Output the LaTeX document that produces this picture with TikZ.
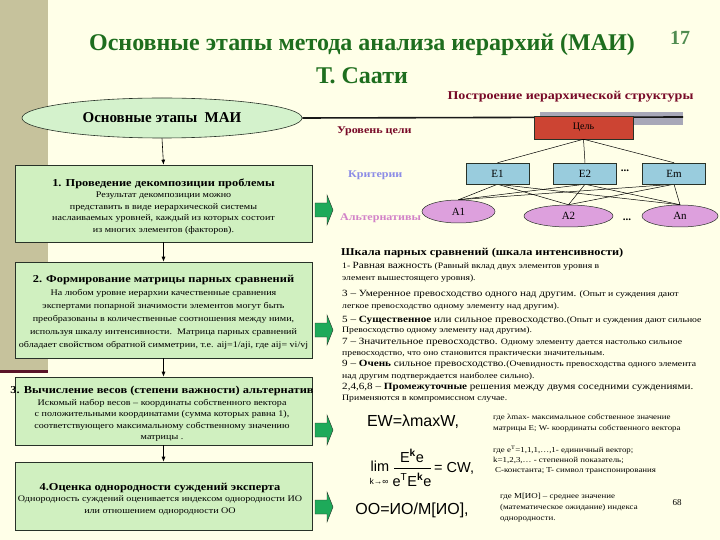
\documentclass[tikz,border=0pt]{standalone}
\usepackage{fontspec}
\setmainfont{Liberation Serif}[BoldFont={Liberation Serif Bold}]
\setsansfont{Liberation Sans}
\newfontfamily\widefont{Liberation Serif}[FakeStretch=1.17, BoldFont={Liberation Serif Bold}]
\newcommand\stghead{\widefont\bfseries\fontsize{10.6}{12}\selectfont}
\usetikzlibrary{arrows.meta,shapes.geometric}
\definecolor{bg}{RGB}{255,255,232}
\definecolor{band}{RGB}{198,194,156}
\definecolor{maroonbar}{RGB}{90,20,40}
\definecolor{titlegreen}{RGB}{30,110,30}
\definecolor{numgreen}{RGB}{80,140,80}
\definecolor{maroontxt}{RGB}{120,10,40}
\definecolor{boxgreen}{RGB}{208,240,192}
\definecolor{ellgreen}{RGB}{212,242,204}
\definecolor{goalred}{RGB}{204,68,51}
\definecolor{critblue}{RGB}{153,204,221}
\definecolor{altpink}{RGB}{221,160,221}
\definecolor{crittxt}{RGB}{140,140,230}
\definecolor{alttxt}{RGB}{210,130,200}
\definecolor{arrgreen}{RGB}{30,170,90}
\definecolor{graybar}{RGB}{168,168,184}
\definecolor{edge}{RGB}{40,50,40}
\begin{document}
\begin{tikzpicture}[x=1pt,y=-1pt,
  stagebox/.style={draw=edge, fill=boxgreen, line width=0.6pt, minimum width=297, inner sep=0},
  stagetext/.style={align=center, inner sep=0, font=\widefont\fontsize{8.6}{11.6}\selectfont},
  flow/.style={-{Latex[length=5pt,width=4pt]}, line width=0.6pt},
  critbox/.style={draw=edge, fill=critblue, line width=0.5pt, minimum width=63, minimum height=21, inner sep=0, font=\fontsize{11}{12}\selectfont},
  altell/.style={ellipse, draw=edge, fill=altpink, line width=0.5pt, minimum height=23, inner sep=0, font=\fontsize{11}{12}\selectfont},
  hline/.style={line width=0.5pt},
  levellabel/.style={anchor=west, inner sep=0, font=\widefont\bfseries\fontsize{10.3}{11}\selectfont},
  scaletext/.style={anchor=west, inner sep=0, font=\widefont\fontsize{8.3}{9}\selectfont},
  note/.style={anchor=west, inner sep=0, font=\widefont\fontsize{7.6}{9}\selectfont},
  formula/.style={inner sep=0, font=\sffamily\fontsize{16}{18}\selectfont},
  formsmall/.style={inner sep=0, font=\sffamily\fontsize{14.5}{15}\selectfont},
  garrow/.pic={\filldraw[fill=arrgreen, draw=edge, line width=0.4pt]
     (0,-7) -- (12,-7) -- (12,-15) -- (18,0) -- (12,15) -- (12,7) -- (0,7) -- cycle;}
]
\useasboundingbox (0,0) rectangle (720,540);
\fill[bg] (0,0) rectangle (720,540);
\fill[band] (0,0) rectangle (48,370);
\fill[maroonbar] (0,370) rectangle (48,373);

% titles
\node[text=titlegreen, font=\bfseries\fontsize{24}{28}\selectfont] (title1) at (362,45) {Основные этапы метода анализа иерархий (МАИ)};
\node[text=titlegreen, font=\bfseries\fontsize{24}{28}\selectfont] (title2) at (362,76) {Т. Саати};
\node[text=numgreen, font=\bfseries\fontsize{20}{22}\selectfont] (num) at (680,38) {17};
\node[anchor=east, text=maroontxt, font=\widefont\bfseries\fontsize{12}{14}\selectfont] (sub) at (697,97) {Построение иерархической структуры};

% main ellipse and stages
\node[ellipse, draw=edge, fill=ellgreen, line width=0.6pt, minimum width=280, minimum height=40, inner sep=0, font=\bfseries\fontsize{15}{17}\selectfont] (mai) at (162,118) {Основные этапы\ \ МАИ};

\node[stagebox, minimum height=77] (b1) at (163.5,203.5) {};
\node[stagebox, minimum height=96] (b2) at (163.5,310) {};
\node[stagebox, minimum height=68] (b3) at (163.5,411) {};
\node[stagebox, minimum height=68] (b4) at (163.5,496) {};

\node[stagetext] (t1) at (163.5,206.5) {{\stghead 1. Проведение декомпозиции проблемы}\\
Результат декомпозиции можно\\ представить в виде иерархической системы\\ наслаиваемых уровней, каждый из которых состоит\\ из многих элементов (факторов).};
\node[stagetext, font=\widefont\fontsize{8.6}{13}\selectfont] (t2) at (163.5,312) {{\stghead 2. Формирование матрицы парных сравнений}\\
На любом уровне иерархии качественные сравнения\\ экспертами попарной значимости элементов могут быть\\ преобразованы в количественные соотношения между ними,\\ используя шкалу интенсивности.\ \ Матрица парных сравнений\\ обладает свойством обратной симметрии, т.е. aij=1/aji, где aij= vi/vj};
\node[stagetext] (t3) at (162,414) {{\stghead 3. Вычисление весов (степени важности) альтернатив}\\
Искомый набор весов – координаты собственного вектора\\ с положительными координатами (сумма которых равна 1),\\ соответствующего максимальному собственному значению\\ матрицы .};
\node[stagetext] (t4) at (160,499) {{\stghead 4.Оценка однородности суждений эксперта}\\
Однородность суждений оценивается индексом однородности ИО\\ или отношением однородности ОО};

\draw[flow] (mai.south) -- (b1.north);
\draw[flow] (b1.south) -- (b2.north);
\draw[flow] (b2.south) -- (b3.north);
\draw[flow] (b3.south) -- (b4.north);

\pic at (315,210) {garrow};
\pic at (315,330) {garrow};
\pic at (315,430) {garrow};
\pic at (315,507) {garrow};

% hierarchy
\fill[graybar] (540,112) rectangle (683,125);
\coordinate (lineend) at (683,117);
\draw[line width=1.6pt, black!90] (mai.east) -- (lineend);
\node[draw=edge, fill=goalred, line width=0.5pt, minimum width=99, minimum height=23, inner sep=0, font=\fontsize{10}{12}\selectfont] (goal) at (583.5,127.5) {Цель};

\node[levellabel, text=maroontxt] (lvl) at (337,131) {Уровень цели};
\node[levellabel, text=crittxt] (crit) at (348,175) {Критерии};
\node[levellabel, text=alttxt] (alts) at (340,218) {Альтернативы};

\node[critbox] (e1) at (497.5,173.5) {E1};
\node[critbox] (e2) at (585,173.5) {E2};
\node[critbox] (em) at (674,173.5) {Em};
\node[inner sep=0, font=\bfseries\fontsize{11}{12}\selectfont] (dots1) at (625,171) {...};

\node[altell, minimum width=73] (a1) at (458.5,211.5) {A1};
\node[altell, minimum width=89, minimum height=22] (a2) at (568.5,216) {A2};
\node[altell, minimum width=76, minimum height=22] (an) at (680,216) {An};
\node[inner sep=0, font=\bfseries\fontsize{11}{12}\selectfont] (dots2) at (627,220) {...};

\foreach \e in {e1,e2,em} \draw[hline] (goal.south) -- (\e.north);
\foreach \e in {e1,e2,em} \foreach \a in {a1,a2,an} \draw[hline] (\e.south) -- (\a.north);
% redraw nodes above lines
\node[critbox] at (e1) {E1};
\node[critbox] at (e2) {E2};
\node[critbox] at (em) {Em};

% scale of comparisons
\node[anchor=west, inner sep=0, font=\widefont\bfseries\fontsize{10.5}{12}\selectfont] (sh) at (341,253) {Шкала парных сравнений (шкала интенсивности)};
\node[scaletext] (s1) at (342,266) {1- {\fontsize{9.5}{10}\selectfont Равная важность} (Равный вклад двух элементов уровня в};
\node[scaletext] (s2) at (342,279) {элемент вышестоящего уровня).};
\node[scaletext] (s3) at (342,294) {{\fontsize{9.5}{10}\selectfont 3 – Умеренное превосходство одного над другим.} (Опыт и суждения дают};
\node[scaletext] (s4) at (342,307) {легкое превосходство одному элементу над другим).};
\node[scaletext] (s5) at (342,320) {{\fontsize{9.5}{10}\selectfont 5 – \textbf{Существенное} или сильное превосходство.}(Опыт и суждения дают сильное};
\node[scaletext] (s6) at (342,331) {Превосходство одному элементу над другим).};
\node[scaletext] (s7) at (342,342) {{\fontsize{9.5}{10}\selectfont 7 – Значительное превосходство.} Одному элементу дается настолько сильное};
\node[scaletext] (s8) at (342,354) {превосходство, что оно становится практически значительным.};
\node[scaletext] (s9) at (342,364) {{\fontsize{9.5}{10}\selectfont 9 – \textbf{Очень} сильное превосходство.}(Очевидность превосходства одного элемента};
\node[scaletext] (s10) at (342,376) {над другим подтверждается наиболее сильно).};
\node[scaletext] (s11) at (342,387) {{\fontsize{9.5}{10}\selectfont 2,4,6,8 – \textbf{Промежуточные} решения между двумя соседними суждениями.}};
\node[scaletext] (s12) at (342,399) {Применяются в компромиссном случае.};

% formulas
\node[formula] (f1) at (413,422) {EW=λmaxW,};
% limit formula drawn as parts
\node[formsmall] (lim) at (380,466) {lim};
\node[inner sep=0, font=\sffamily\fontsize{8.5}{10}\selectfont] (limsub) at (379,481) {k→∞};
\node[formsmall] (num2) at (412,456) {E\textsuperscript{\bfseries k}e};
\node[formsmall] (den2) at (412,480) {e\textsuperscript{T}E\textsuperscript{\bfseries k}e};
\coordinate (barl) at (394,468);
\coordinate (barr) at (431,468);
\draw[line width=0.7pt] (barl) -- (barr);
\node[formsmall, anchor=west] (cw) at (434,468) {= CW,};
\node[formula] (f3) at (412,510) {ОО=ИО/М[ИО],};

\node[note] (n1) at (493,418) {где λmax- максимальное собственное значение};
\node[note] (n2) at (493,429) {матрицы E; W- координаты собственного вектора};
\node[note] (n3) at (493,450) {где e\textsuperscript{T}={1,1,1,…,1}- единичный вектор;};
\node[note] (n4) at (493,460) {k=1,2,3,… - степенной показатель;};
\node[note] (n5) at (495,471) {C-константа; T- символ транспонирования};
\node[note] (n6) at (500,497) {где М[ИО] – среднее значение};
\node[note] (n7) at (500,508) {(математическое ожидание) индекса};
\node[note] (n8) at (500,520) {однородности.};
\node[inner sep=0, font=\fontsize{9}{10}\selectfont] (pg) at (677,503) {68};
\end{tikzpicture}
\end{document}
